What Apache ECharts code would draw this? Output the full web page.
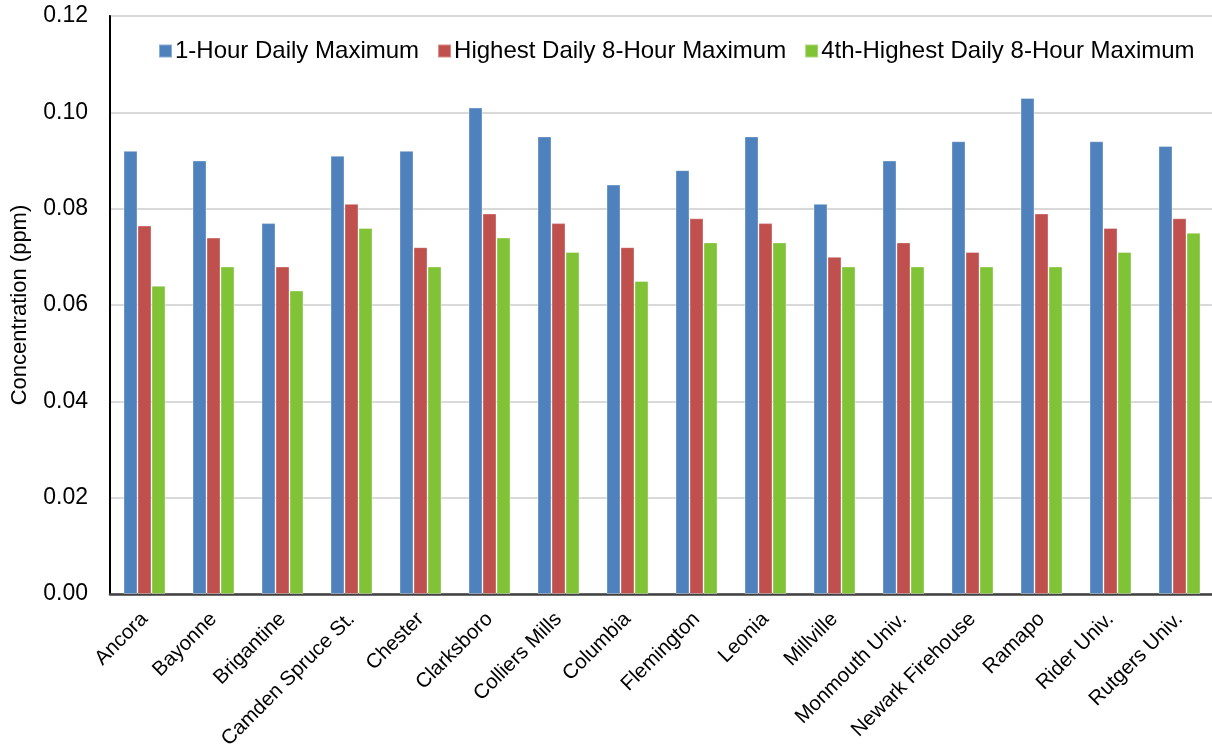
<!DOCTYPE html>
<html>
<head>
<meta charset="utf-8">
<script src="https://cdn.jsdelivr.net/npm/echarts@6/dist/echarts.min.js"></script>
<style>
  html, body { margin: 0; padding: 0; background: #fff; }
  #chart { width: 1212px; height: 751px; }
</style>
</head>
<body>
<div id="chart"></div>
<script>
// Ozone monitoring sites and their concentration statistics (ppm)
const sites = ['Ancora', 'Bayonne', 'Brigantine', 'Camden Spruce St.', 'Chester', 'Clarksboro',
  'Colliers Mills', 'Columbia', 'Flemington', 'Leonia', 'Millville', 'Monmouth Univ.',
  'Newark Firehouse', 'Ramapo', 'Rider Univ.', 'Rutgers Univ.'];
const oneHourMax = [0.092, 0.090, 0.077, 0.091, 0.092, 0.101, 0.095, 0.085, 0.088, 0.095, 0.081, 0.090, 0.094, 0.103, 0.094, 0.093];
const highest8HourMax = [0.0765, 0.074, 0.068, 0.081, 0.072, 0.079, 0.077, 0.072, 0.078, 0.077, 0.070, 0.073, 0.071, 0.079, 0.076, 0.078];
const fourthHighest8HourMax = [0.064, 0.068, 0.063, 0.076, 0.068, 0.074, 0.071, 0.065, 0.073, 0.073, 0.068, 0.068, 0.068, 0.068, 0.071, 0.075];
const seriesNames = ['1-Hour Daily Maximum', 'Highest Daily 8-Hour Maximum', '4th-Highest Daily 8-Hour Maximum'];
const yTicks = { min: 0, max: 0.12, interval: 0.02 };

const colors = ['#4F81BD', '#C0504D', '#80C336'];
const font = 'Liberation Sans, Arial, sans-serif';

function barSeries(name, data, color) {
  return {
    name: name,
    type: 'bar',
    data: data,
    barWidth: 14,
    barGap: '0%',
    itemStyle: { color: color, borderColor: 'rgba(255,255,255,0.35)', borderWidth: 1 }
  };
}

const chart = echarts.init(document.getElementById('chart'), null, { renderer: 'canvas' });
chart.setOption({
  animation: false,
  backgroundColor: '#fff',
  grid: {
    left: 110, top: 16, width: 1104, bottom: 157,
    outerBoundsMode: 'none', containLabel: false,
    show: true, borderColor: '#000', borderWidth: 1.5, backgroundColor: 'transparent'
  },
  legend: {
    top: 34, left: 153,
    itemWidth: 13, itemHeight: 13, itemGap: 18,
    icon: 'rect',
    textStyle: { fontFamily: font, fontSize: 24, color: '#000', padding: [0, 0, 0, -2] },
    data: seriesNames
  },
  xAxis: {
    type: 'category',
    data: sites,
    axisLine: { lineStyle: { color: '#404040', width: 2.5 } },
    axisTick: { show: false },
    axisLabel: {
      rotate: 45, interval: 0, margin: 22,
      fontFamily: font, fontSize: 20.5, color: '#000'
    }
  },
  yAxis: {
    type: 'value',
    min: yTicks.min, max: yTicks.max, interval: yTicks.interval,
    name: 'Concentration (ppm)',
    nameLocation: 'middle', nameGap: 79, nameRotate: 90,
    nameTextStyle: { fontFamily: font, fontSize: 22, color: '#000' },
    axisLine: { show: true, lineStyle: { color: '#000', width: 2 } },
    axisTick: { show: false },
    axisLabel: {
      margin: 22, fontFamily: font, fontSize: 23, color: '#000',
      formatter: v => v.toFixed(2)
    },
    splitLine: { lineStyle: { color: '#D9D9D9', width: 2 } }
  },
  series: [
    barSeries(seriesNames[0], oneHourMax, colors[0]),
    barSeries(seriesNames[1], highest8HourMax, colors[1]),
    barSeries(seriesNames[2], fourthHighest8HourMax, colors[2])
  ]
});
</script>
</body>
</html>
